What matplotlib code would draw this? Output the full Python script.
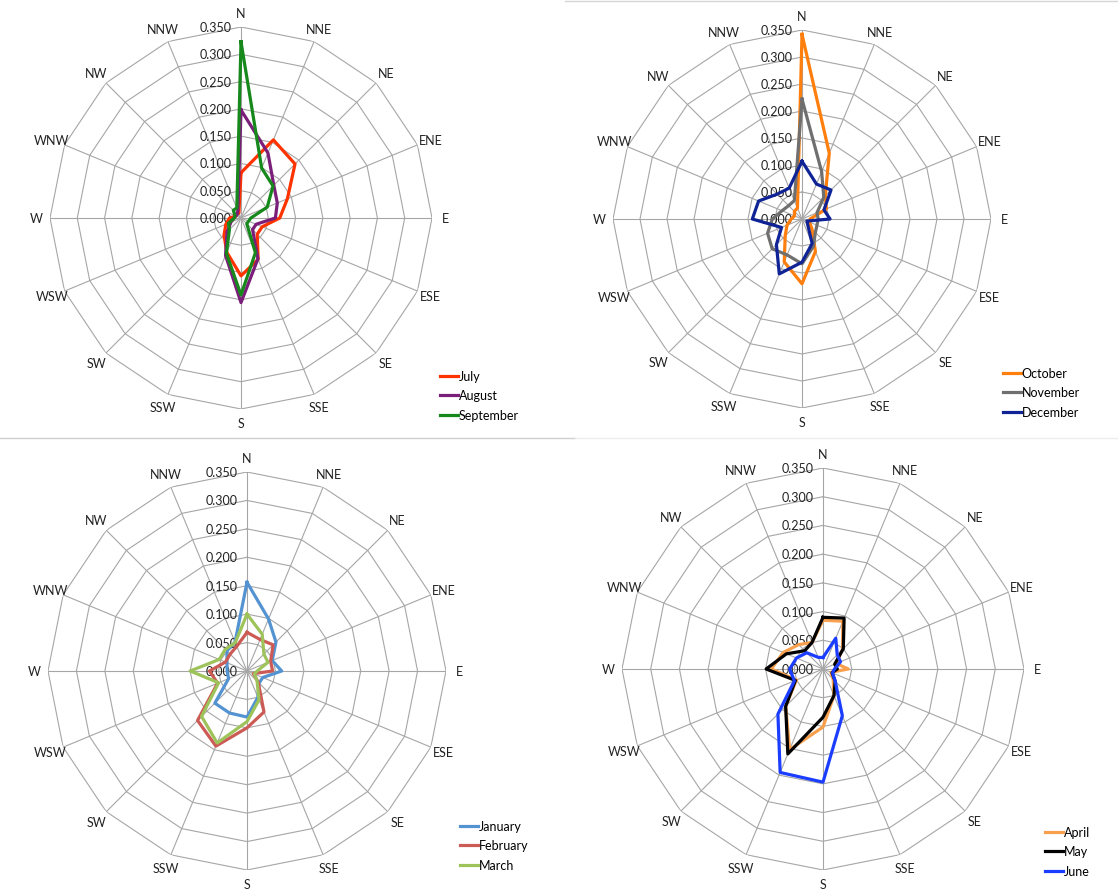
import numpy as np
import matplotlib.pyplot as plt
from matplotlib.lines import Line2D

plt.rcParams['font.family'] = ['Lato', 'DejaVu Sans']

directions = ['N', 'NNE', 'NE', 'ENE', 'E', 'ESE', 'SE', 'SSE',
              'S', 'SSW', 'SW', 'WSW', 'W', 'WNW', 'NW', 'NNW']
rings = [0.0, 0.05, 0.10, 0.15, 0.20, 0.25, 0.30, 0.35]

# wind direction frequencies per month
july = [0.083, 0.155, 0.140, 0.092, 0.071, 0.042, 0.042, 0.082, 0.106, 0.068, 0.044, 0.030, 0.021, 0.010, 0.010, 0.010]
august = [0.198, 0.129, 0.085, 0.072, 0.063, 0.030, 0.030, 0.081, 0.155, 0.074, 0.036, 0.020, 0.013, 0.010, 0.010, 0.015]
september = [0.323, 0.099, 0.083, 0.052, 0.018, 0.015, 0.015, 0.069, 0.141, 0.070, 0.030, 0.025, 0.012, 0.012, 0.020, 0.020]

october = [0.342, 0.132, 0.061, 0.049, 0.015, 0.015, 0.026, 0.065, 0.120, 0.086, 0.044, 0.030, 0.020, 0.015, 0.020, 0.022]
november = [0.222, 0.095, 0.057, 0.030, 0.030, 0.030, 0.035, 0.055, 0.083, 0.072, 0.078, 0.069, 0.055, 0.040, 0.035, 0.037]
december = [0.107, 0.070, 0.076, 0.044, 0.052, 0.010, 0.015, 0.049, 0.080, 0.110, 0.067, 0.041, 0.092, 0.087, 0.065, 0.062]

january = [0.156, 0.099, 0.072, 0.048, 0.061, 0.030, 0.030, 0.050, 0.081, 0.080, 0.080, 0.035, 0.035, 0.038, 0.050, 0.055]
february = [0.068, 0.060, 0.065, 0.045, 0.045, 0.012, 0.028, 0.078, 0.100, 0.143, 0.123, 0.056, 0.066, 0.041, 0.042, 0.047]
march = [0.100, 0.070, 0.042, 0.040, 0.018, 0.014, 0.025, 0.055, 0.089, 0.137, 0.113, 0.054, 0.100, 0.053, 0.054, 0.054]

april = [0.085, 0.090, 0.048, 0.025, 0.044, 0.015, 0.025, 0.050, 0.101, 0.152, 0.092, 0.050, 0.090, 0.075, 0.060, 0.050]
may = [0.090, 0.096, 0.050, 0.022, 0.025, 0.017, 0.030, 0.050, 0.084, 0.160, 0.092, 0.052, 0.099, 0.069, 0.045, 0.050]
june = [0.020, 0.058, 0.035, 0.033, 0.020, 0.018, 0.030, 0.088, 0.197, 0.195, 0.111, 0.054, 0.058, 0.050, 0.040, 0.022]

panels = [
    # (axes box in pixels: left, top, size), series, legend anchor
    ((50, 28, 382), [('July', july, '#FF3300'),
                     ('August', august, '#7B1E7A'),
                     ('September', september, '#17891C')],
     (435, 366)),
    ((613, 31, 378), [('October', october, '#FF7F0E'),
                      ('November', november, '#6F6F6F'),
                      ('December', december, '#0F2396')],
     (998, 363)),
    ((48, 473, 398), [('January', january, '#5393D2'),
                      ('February', february, '#CC5B55'),
                      ('March', march, '#9DC35A')],
     (455, 816)),
    ((622, 469, 402), [('April', april, '#F9A04E'),
                       ('May', may, '#000000'),
                       ('June', june, '#1B3DFF')],
     (1040, 822)),
]

W, H = 1118, 895
fig = plt.figure(figsize=(W / 100, H / 100), dpi=100)

theta = np.linspace(0, 2 * np.pi, len(directions), endpoint=False)
theta_c = np.append(theta, theta[0])

for (left, top, size), series, (lx, ly) in panels:
    ax = fig.add_axes([left / W, 1 - (top + size) / H, size / W, size / H], projection='polar')
    ax.set_theta_zero_location('N')
    ax.set_theta_direction(-1)
    ax.set_ylim(0, 0.35)
    ax.grid(False)
    ax.spines['polar'].set_visible(False)
    ax.set_yticks([])
    ax.set_xticks(theta)
    ax.set_xticklabels(directions, fontsize=9, color='#222222')
    ax.tick_params(axis='x', length=0, pad=3)

    # polygon gridlines and spokes
    for r in rings[1:]:
        ax.plot(theta_c, [r] * len(theta_c), color='#A6A6A6', lw=0.8, zorder=1)
    for t in theta:
        ax.plot([t, t], [0, 0.35], color='#A6A6A6', lw=0.8, zorder=1)
    for r in rings:
        ax.annotate(f'{r:.3f}', xy=(0, r), xytext=(-7, 0), textcoords='offset points',
                    ha='right', va='center', fontsize=9, color='#222222', annotation_clip=False)

    handles = []
    for name, vals, color in series:
        ax.plot(theta_c, vals + vals[:1], color=color, lw=2.3, zorder=3)
        handles.append(Line2D([], [], color=color, lw=2.3, label=name))
    fig.legend(handles=handles, loc='upper left', bbox_to_anchor=(lx / W, 1 - ly / H),
               frameon=False, fontsize=9, handlelength=1.4, handletextpad=0.1,
               labelspacing=0.6, borderaxespad=0)

# thin panel borders
fig.add_artist(Line2D([0, 575 / W], [1 - 439 / H, 1 - 439 / H], color='#CFCFCF', lw=1))
fig.add_artist(Line2D([575 / W, 1], [1 - 439 / H, 1 - 439 / H], color='#EDEDED', lw=1))
fig.add_artist(Line2D([565 / W, 1], [1 - 1.5 / H, 1 - 1.5 / H], color='#D6D6D6', lw=1))

fig.savefig('out.png', dpi=100)
